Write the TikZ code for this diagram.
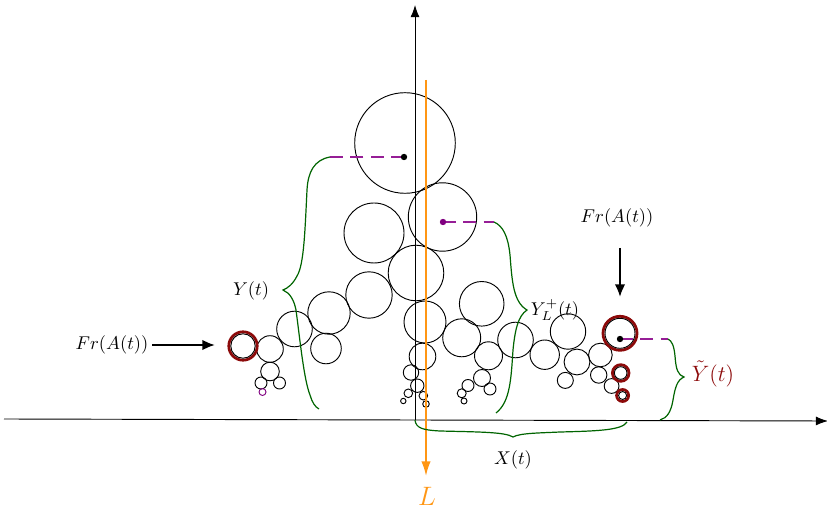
\documentclass[tikz,border=0pt]{standalone}
\usepackage{amsmath,amssymb}
\usepackage{tikz}
\usetikzlibrary{arrows.meta,calc}
\definecolor{brgreen}{RGB}{0,100,0}
\definecolor{dpurp}{RGB}{128,0,128}
\definecolor{dshc}{RGB}{150,30,150}
\definecolor{dred}{RGB}{140,10,10}
\definecolor{lorange}{RGB}{255,150,20}
\tikzset{
  circ/.style={black, line width=0.5pt},
  rcirc/.style={dred, line width=1.5pt},
  brc/.style={brgreen, line width=0.65pt},
  dsh/.style={dshc, line width=0.7pt, dash pattern=on 7pt off 4pt},
  ax/.style={-{Latex[length=2.3mm,width=1.7mm]}, black, line width=0.5pt},
  farr/.style={-{Latex[length=2.4mm,width=2mm]}, black, line width=1.1pt},
  larr/.style={-{Latex[length=2.8mm,width=1.8mm]}, lorange, line width=1pt},
  lab/.style={font=\normalsize, inner sep=2pt},
}

\begin{document}
\begin{tikzpicture}[x=0.019cm, y=-0.019cm]
 \useasboundingbox (0,0) rectangle (827,508);
 \coordinate (o) at (415,420);
 \coordinate (xst) at (4,419);
 \coordinate (xend) at (828,421);
 \coordinate (yend) at (415,5);
 \draw[ax] (xst) -- (xend);
 \draw[ax] (o) -- (yend);
 \foreach \cx/\cy/\r in {405/143/50.3, 442.5/217/34.2, 374/233/30, 416/273/27.8, 369/295/23.2,
   329/313/21.2, 294.5/329/17.8, 326/348.5/15.3, 270/349/13.3, 270/371.5/9.3, 261/383/6,
   279.5/383/6, 425/322/21, 422.5/356.5/13.3, 411/372.5/7.7, 417.3/385.7/6.7, 408.3/393.3/4.3,
   423.3/395.7/4.3, 403.3/401/2.7, 426/404/3.3, 461.7/337.8/19, 481.7/303.8/22.3,
   488.5/355.8/14, 482/378/8.5, 468/385.5/6, 490/389/6, 461.7/393.3/4.5, 464/401/3,
   515.5/340/17.8, 544.7/354.7/14.7, 568/331.5/17.7, 577/362/12.9, 565.3/380.4/8,
   600.4/355/11.8, 598.7/375/8.2, 611.6/386/7.4}{
   \draw[circ] (\cx,\cy) circle (\r);}
 \foreach \cx/\cy/\r in {243/346/12.2, 620/333.3/15, 620.7/373/6.3, 622.6/395.5/4}{
   \draw[rcirc] (\cx,\cy) circle (\r+2);
   \draw[circ] (\cx,\cy) circle (\r);}
 \draw[dpurp, line width=0.5pt] (262.5,392) circle (3.5);
 \coordinate (ltop) at (426,80);
 \coordinate (lbot) at (426,476);
 \draw[larr] (ltop) -- (lbot);
 \node[lab, text=lorange, font=\Large] (llab) at (427,496) {$L$};
 \coordinate (d1) at (404,157);
 \coordinate (d2) at (443,222);
 \coordinate (d3) at (620,339);
 \coordinate (b1) at (330,157);
 \coordinate (b2) at (494,222);
 \coordinate (b3) at (668,339);
 \draw[dsh] (d1) -- (b1);
 \draw[dsh] (d2) -- (b2);
 \draw[dsh] (d3) -- (b3);
 \fill (d1) circle (3.2);
 \fill[dpurp] (d2) circle (3.2);
 \fill (d3) circle (3.2);
 \draw[brc] (b1) .. controls (314,160) and (308,172) .. (307,190)
   .. controls (305,230) and (304,265) .. (297,276) .. controls (293,284) and (288,288) .. (283,290)
   .. controls (290,293) and (294,300) .. (296,310) .. controls (300,340) and (304,380) .. (310,395)
   .. controls (312,402) and (315,407) .. (319,409);
 \draw[brc] (b2) .. controls (503,226) and (508,236) .. (510,255)
   .. controls (512,280) and (513,302) .. (527,310) .. controls (518,316) and (515,330) .. (513,350)
   .. controls (511,380) and (510,402) .. (496,413);
 \draw[brc] (b3) .. controls (672,341) and (674,346) .. (675,356)
   .. controls (676,370) and (678,375) .. (684,377) .. controls (677,380) and (675,388) .. (673,400)
   .. controls (671,412) and (667,418) .. (660,420);
 \draw[brc] (o) .. controls (416,428) and (422,430) .. (440,431)
   .. controls (480,432) and (505,432) .. (513,437) .. controls (520,433) and (540,433) .. (560,432)
   .. controls (600,431) and (622,430) .. (627,422);
 \node[lab] (ylab) at (251,291) {$Y(t)$};
 \node[lab] (xlab) at (513,460) {$X(t)$};
 \node[lab] (yllab) at (555,310) {$Y_L^+(t)$};
 \node[lab, text=dred, font=\large] (ytlab) at (713,374) {$\tilde{Y}(t)$};
 \node[lab] (frl) at (112,345) {$Fr(A(t))$};
 \coordinate (frltip) at (215,345);
 \draw[farr] (frl.east) -- (frltip);
 \node[lab] (frr) at (617,218) {$Fr(A(t))$};
 \coordinate (frrtip) at (620,297);
 \draw[farr, shorten <=9pt] (frr.south -| frrtip) -- (frrtip);
\end{tikzpicture}
\end{document}
